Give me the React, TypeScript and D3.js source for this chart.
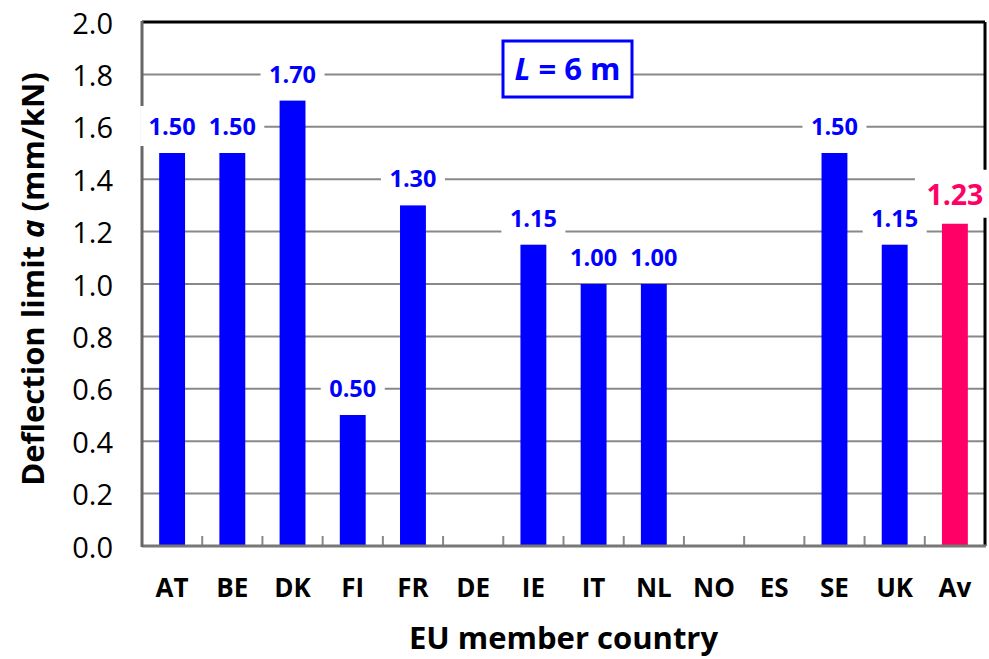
import React from 'react';
import * as d3 from 'd3';

const countries = ['AT', 'BE', 'DK', 'FI', 'FR', 'DE', 'IE', 'IT', 'NL', 'NO', 'ES', 'SE', 'UK', 'Av'];
const limits: (number | null)[] = [1.5, 1.5, 1.7, 0.5, 1.3, null, 1.15, 1.0, 1.0, null, null, 1.5, 1.15, 1.23];
const yTicks = [0, 0.2, 0.4, 0.6, 0.8, 1.0, 1.2, 1.4, 1.6, 1.8, 2.0];

const W = 989;
const H = 659;
const margin = { top: 22, right: 4, bottom: 113, left: 142 };
const FONT = "'Open Sans', 'DejaVu Sans', sans-serif";

const blue = '#0000ff';
const red = '#ff0066';

export default function App() {
  const x = d3.scaleBand<string>()
    .domain(countries)
    .range([margin.left, W - margin.right])
    .paddingInner(0.57)
    .paddingOuter(0.285);
  const step = x.step();
  const y = d3.scaleLinear().domain([0, 2]).range([H - margin.bottom, margin.top]);
  const x0 = margin.left;
  const x1 = W - margin.right;
  const yb = y(0);
  const yt = y(2);

  return (
    <svg width={W} height={H} style={{ position: 'absolute', left: 0, top: 0, background: '#fff' }} fontFamily={FONT}>
      {/* gridlines */}
      {yTicks.filter(t => t > 0 && t < 2).map(t => (
        <line key={t} x1={x0} x2={x1} y1={y(t)} y2={y(t)} stroke="#888" strokeWidth={2} />
      ))}

      {/* bars */}
      {countries.map((c, i) => {
        const v = limits[i];
        if (v == null) return null;
        return (
          <rect key={c} x={x(c)} y={y(v)} width={x.bandwidth()} height={yb - y(v)}
            fill={c === 'Av' ? red : blue} />
        );
      })}

      {/* category ticks (inward) */}
      {countries.slice(1).map(c => {
        const xx = (x(c) as number) - (step - x.bandwidth()) / 2;
        return <line key={c} x1={xx} x2={xx} y1={yb} y2={yb - 10} stroke="#888" strokeWidth={2} />;
      })}

      {/* axes / frame */}
      <line x1={x0} x2={x1} y1={yt} y2={yt} stroke="#000" strokeWidth={3} />
      <line x1={x1} x2={x1} y1={yt} y2={yb} stroke="#000" strokeWidth={3} />
      <line x1={x0} x2={x1 + 1} y1={yb} y2={yb} stroke="#777" strokeWidth={3} />
      <line x1={x0} x2={x0} y1={yt - 1} y2={yb + 1} stroke="#666" strokeWidth={3} />

      {/* value labels */}
      {countries.map((c, i) => {
        const v = limits[i];
        if (v == null) return null;
        const cx = (x(c) as number) + x.bandwidth() / 2;
        const isAv = c === 'Av';
        const cy = y(v) - (isAv ? 30 : 27);
        const bw = isAv ? 80 : 64;
        const bh = isAv ? 48 : 40;
        return (
          <g key={c}>
            <rect x={cx - bw / 2} y={cy - bh / 2} width={bw} height={bh} fill="#fff" />
            <text x={cx} y={cy} textAnchor="middle" dominantBaseline="central"
              fontWeight="bold" fontSize={isAv ? 28.5 : 23.5} fill={isAv ? red : blue}>
              {v.toFixed(2)}
            </text>
          </g>
        );
      })}

      {/* L = 6 m box */}
      <rect x={503} y={41} width={129} height={56} fill="#fff" stroke={blue} strokeWidth={3} />
      <text x={567.5} y={68} textAnchor="middle" dominantBaseline="central" fontWeight="bold" fontSize={31} fill={blue}>
        <tspan fontStyle="italic">L</tspan> = 6 m
      </text>

      {/* y tick labels */}
      {yTicks.map(t => (
        <text key={t} x={113} y={y(t)} textAnchor="end" dominantBaseline="central" fontSize={29} fill="#000">
          {t.toFixed(1)}
        </text>
      ))}

      {/* x tick labels */}
      {countries.map(c => (
        <text key={c} x={(x(c) as number) + x.bandwidth() / 2} y={587} textAnchor="middle" dominantBaseline="central"
          fontWeight="bold" fontSize={26} fill="#000">
          {c}
        </text>
      ))}

      {/* axis titles */}
      <text x={563.5} y={637} textAnchor="middle" dominantBaseline="central" fontWeight="bold" fontSize={31} fill="#000">
        EU member country
      </text>
      <text transform={`translate(32,279) rotate(-90)`} textAnchor="middle" dominantBaseline="central"
        fontWeight="bold" fontSize={31} fill="#000">
        Deflection limit <tspan fontStyle="italic">a</tspan> (mm/kN)
      </text>
    </svg>
  );
}
